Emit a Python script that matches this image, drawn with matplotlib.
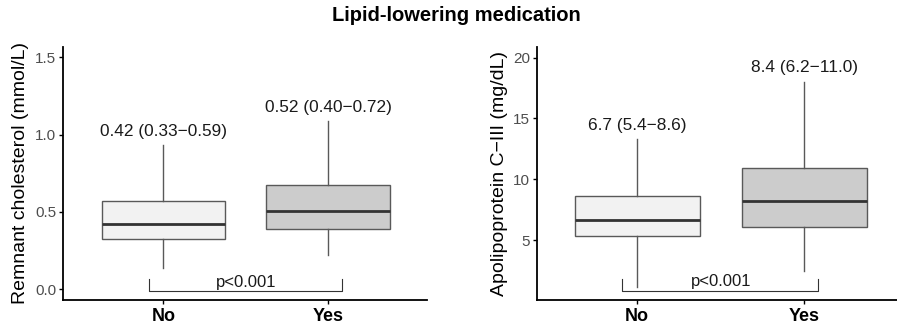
import matplotlib
matplotlib.use("Agg")
import matplotlib.pyplot as plt

plt.rcParams["font.family"] = ["Liberation Sans", "DejaVu Sans"]

# Groups on the x axis
GROUPS = ["No", "Yes"]
FILLS = ["#f2f2f2", "#cccccc"]

# Remnant cholesterol (mmol/L): whisker low, Q1, median, Q3, whisker high
RC_WLO = [0.134, 0.22]
RC_Q1 = [0.327, 0.392]
RC_MED = [0.42, 0.506]
RC_Q3 = [0.573, 0.671]
RC_WHI = [0.935, 1.09]
RC_LABELS = ["0.42 (0.33\u22120.59)", "0.52 (0.40\u22120.72)"]

# Apolipoprotein C-III (mg/dL)
AC_WLO = [1.2, 2.48]
AC_Q1 = [5.35, 6.09]
AC_MED = [6.69, 8.22]
AC_Q3 = [8.6, 10.95]
AC_WHI = [13.3, 18.03]
AC_LABELS = ["6.7 (5.4\u22128.6)", "8.4 (6.2\u221211.0)"]

P_TEXT = "p<0.001"


def draw_panel(ax, wlo, q1, med, q3, whi, labels, ylabel, ylim, yticks,
               xlim, label_off, br_lo, br_hi):
    stats = []
    for i in range(len(GROUPS)):
        stats.append({"whislo": wlo[i], "q1": q1[i], "med": med[i],
                      "q3": q3[i], "whishi": whi[i], "fliers": []})
    bp = ax.bxp(stats, positions=[1, 2], widths=0.75, patch_artist=True,
                showcaps=False,
                boxprops=dict(edgecolor="#595959", linewidth=1.0),
                whiskerprops=dict(color="#595959", linewidth=1.0),
                medianprops=dict(color="#333333", linewidth=2.0))
    for patch, c in zip(bp["boxes"], FILLS):
        patch.set_facecolor(c)

    # median (IQR) text above each upper whisker
    for i, lab in enumerate(labels):
        ax.text(i + 1, whi[i] + label_off, lab, ha="center", va="bottom",
                fontsize=12.4, color="#1a1a1a")

    # significance bracket
    ax.plot([0.91, 0.91, 2.085, 2.085], [br_hi, br_lo, br_lo, br_hi],
            color="#333333", linewidth=0.8)
    ax.text(1.5, br_lo + (br_hi - br_lo) * 0.1, P_TEXT, ha="center",
            va="bottom", fontsize=12, color="#1a1a1a")

    ax.set_xlim(*xlim)
    ax.set_ylim(*ylim)
    ax.set_yticks(yticks)
    ax.set_xticks([1, 2])
    ax.set_xticklabels(GROUPS, fontsize=13, fontweight="bold", color="black")
    ax.set_ylabel(ylabel, fontsize=14, color="black", labelpad=4)
    ax.tick_params(axis="y", labelsize=11, labelcolor="#4d4d4d",
                   length=3, width=1.0, pad=2)
    ax.tick_params(axis="x", length=3, width=1.0, pad=3)
    for s in ["top", "right"]:
        ax.spines[s].set_visible(False)
    for s in ["left", "bottom"]:
        ax.spines[s].set_linewidth(1.3)


fig = plt.figure(figsize=(8.97, 3.27), dpi=100)
ax1 = fig.add_axes([0.0702, 0.0826, 0.4058, 0.7737])
ax2 = fig.add_axes([0.5987, 0.0826, 0.4013, 0.7737])

draw_panel(ax1, RC_WLO, RC_Q1, RC_MED, RC_Q3, RC_WHI, RC_LABELS,
           "Remnant cholesterol (mmol/L)", (-0.07, 1.567),
           [0.0, 0.5, 1.0, 1.5], (0.39, 2.6), 0.035, -0.01, 0.065)
ax1.set_yticklabels(["0.0", "0.5", "1.0", "1.5"])

draw_panel(ax2, AC_WLO, AC_Q1, AC_MED, AC_Q3, AC_WHI, AC_LABELS,
           "Apolipoprotein C\u2212III (mg/dL)", (0.1, 20.87),
           [5, 10, 15, 20], (0.4, 2.556), 0.5, 0.87, 1.83)

fig.text(0.509, 0.954, "Lipid-lowering medication", ha="center",
         va="center", fontsize=14.5, fontweight="bold")

fig.savefig("out.png", dpi=100)
